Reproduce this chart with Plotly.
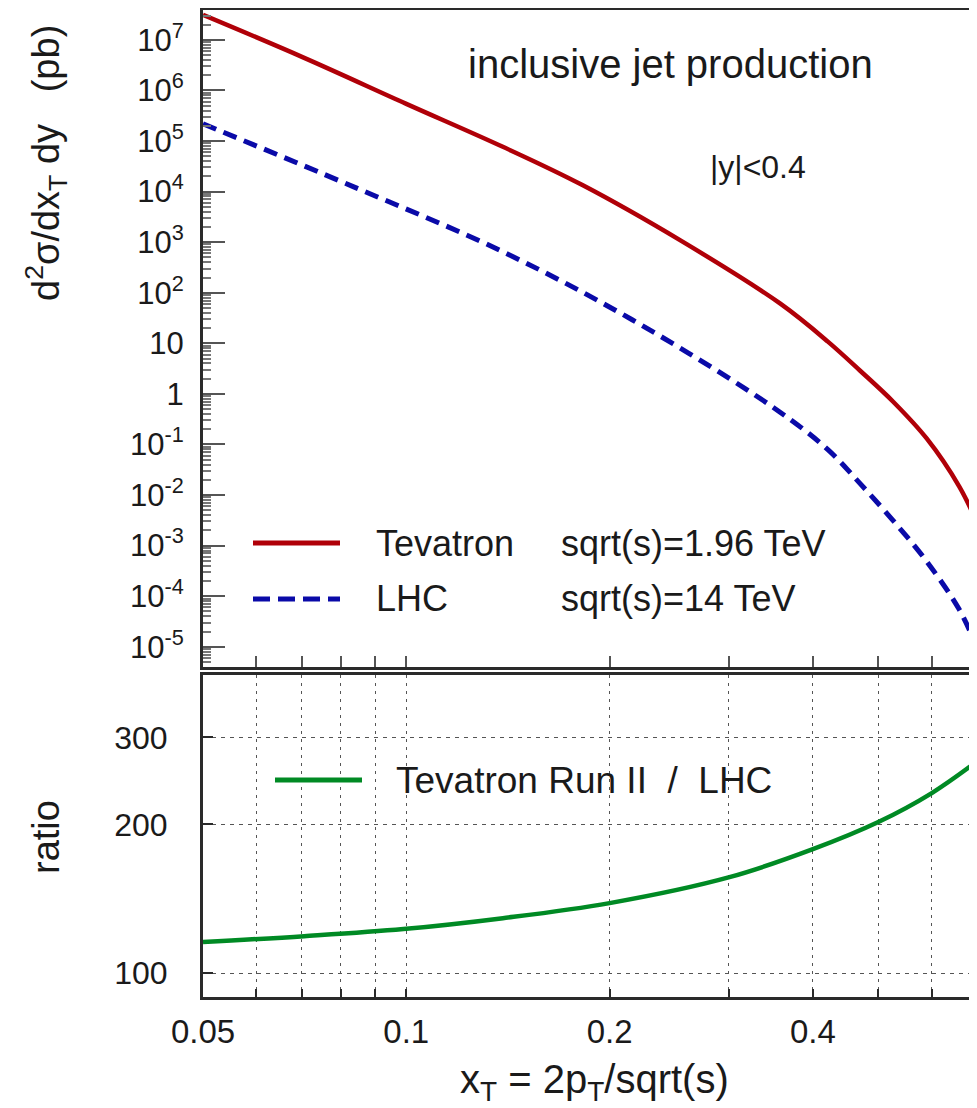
import math
import plotly.graph_objects as go

# ---------------- data ----------------
tev_x = [0.05, 0.0706, 0.1, 0.139, 0.182, 0.255, 0.358, 0.421, 0.470, 0.526, 0.590, 0.659, 0.698]
tev_y = [3.12e7, 4.41e6, 5.43e5, 7.67e4, 1.36e4, 1.07e3, 60.7, 10.8, 2.87, 0.70, 0.130, 0.0147, 0.00312]

lhc_x = [0.05, 0.0836, 0.139, 0.216, 0.350, 0.421, 0.470, 0.526, 0.590, 0.659, 0.698]
lhc_y = [2.19e5, 1.24e4, 646, 29.2, 0.533, 0.0789, 0.0168, 0.00312, 4.83e-4, 5.43e-5, 1.06e-5]

ratio_x = [0.05, 0.0706, 0.099, 0.139, 0.200, 0.301, 0.400, 0.500, 0.600, 0.698]
ratio_y = [115.6, 118.8, 122.8, 129.2, 138.6, 156.4, 178.2, 202.2, 231.4, 267.4]

x_major_ticks = [0.05, 0.1, 0.2, 0.4]
x_major_labels = ["0.05", "0.1", "0.2", "0.4"]
x_minor_ticks = [0.06, 0.07, 0.08, 0.09, 0.3, 0.5, 0.6]
x_all_ticks = [0.05, 0.06, 0.07, 0.08, 0.09, 0.1, 0.2, 0.3, 0.4, 0.5, 0.6]

y_top_exponents = [7, 6, 5, 4, 3, 2, 1, 0, -1, -2, -3, -4, -5]
ratio_ticks = [100, 200, 300]

# ---------------- layout geometry ----------------
# the page body adds an 8px margin, so the figure is placed at (8, 8) in the screenshot
OFF = 8
W, H = 977 - OFF, 1108 - OFF
PL, PR, PT, PB = 203, 977, 10, 997          # plot-area edges in screenshot pixels
L, R, T, B = PL - OFF, W - (PR - OFF), PT - OFF, H - (PB - OFF)
plot_h = H - T - B
top_dom = [(PB - 667) / plot_h, 1.0]
bot_dom = [0.0, (PB - 675) / plot_h]

FONT = "Liberation Sans, Arial, Helvetica, sans-serif"
AX = "#2a2a2a"
RED = "#b00008"
BLUE = "#0a0aa8"
GREEN = "#008a24"
GRID = "#555555"


def px(xp):
    return (xp - PL) / (PR - PL)


def py(yp):
    return (PB - yp) / plot_h


def ytick_text(e):
    if e == 0:
        return "1"
    if e == 1:
        return "10"
    return "10<sup>%d</sup>" % e


top_minor = [m * 10.0 ** k for k in range(-6, 8) for m in range(2, 10)]

fig = go.Figure()

fig.add_trace(go.Scatter(x=tev_x, y=tev_y, mode="lines", xaxis="x2", yaxis="y2",
                         line=dict(color=RED, width=4.5, shape="spline", smoothing=1.0),
                         showlegend=False, name="Tevatron"))
fig.add_trace(go.Scatter(x=lhc_x, y=lhc_y, mode="lines", xaxis="x2", yaxis="y2",
                         line=dict(color=BLUE, width=5, dash="14px,8px", shape="spline", smoothing=1.0),
                         showlegend=False, name="LHC"))
fig.add_trace(go.Scatter(x=ratio_x, y=ratio_y, mode="lines", xaxis="x", yaxis="y",
                         line=dict(color=GREEN, width=4.5, shape="spline", smoothing=1.0),
                         showlegend=False, name="ratio"))

xrange = [math.log10(0.05), math.log10(0.70)]

fig.update_layout(
    width=W, height=H,
    margin=dict(l=L, r=R, t=T, b=B, autoexpand=False),
    paper_bgcolor="white", plot_bgcolor="white",
    font=dict(family=FONT, color="#1a1a1a", size=30),
    xaxis=dict(type="log", range=xrange, domain=[0, 1], anchor="y", automargin=False,
               tickvals=x_major_ticks, ticktext=x_major_labels,
               tickfont=dict(size=33), ticklabelstandoff=3,
               ticks="inside", ticklen=8, tickwidth=2, tickcolor=AX,
               showgrid=True, gridcolor=GRID, gridwidth=1, griddash="3px,5px",
               minor=dict(tickvals=x_minor_ticks, ticks="inside", ticklen=8, tickwidth=2, tickcolor=AX,
                          showgrid=True, gridcolor=GRID, gridwidth=1, griddash="3px,5px"),
               showline=True, linecolor=AX, linewidth=3, mirror=True, zeroline=False),
    yaxis=dict(type="log", range=[math.log10(89.5), math.log10(401)], domain=bot_dom, anchor="x",
               automargin=False,
               tickvals=ratio_ticks, ticktext=[str(v) for v in ratio_ticks],
               tickfont=dict(size=32), ticklabelstandoff=26,
               ticks="inside", ticklen=10, tickwidth=2, tickcolor=AX,
               showgrid=True, gridcolor=GRID, gridwidth=1, griddash="4px,5px",
               showline=True, linecolor=AX, linewidth=3, zeroline=False),
    xaxis2=dict(type="log", range=xrange, domain=[0, 1], anchor="y2", automargin=False,
                tickvals=x_all_ticks, showticklabels=False,
                ticks="inside", ticklen=11, tickwidth=2, tickcolor="#555",
                showgrid=False, showline=True, linecolor=AX, linewidth=3, mirror=True, zeroline=False),
    yaxis2=dict(type="log", range=[-5.40, 7.59], domain=top_dom, anchor="x2", automargin=False,
                tickvals=[10.0 ** e for e in y_top_exponents],
                ticktext=[ytick_text(e) for e in y_top_exponents],
                tickfont=dict(size=31), ticklabelstandoff=10,
                ticks="inside", ticklen=22, tickwidth=2, tickcolor="#555",
                minor=dict(tickvals=top_minor, ticks="inside", ticklen=8, tickwidth=1.5, tickcolor="#777"),
                showgrid=False, showline=True, linecolor=AX, linewidth=3, zeroline=False),
)

# legend samples (drawn as in the original figure)
fig.add_shape(type="line", xref="paper", yref="paper", x0=px(253), x1=px(340), y0=py(543), y1=py(543),
              line=dict(color=RED, width=5))
fig.add_shape(type="line", xref="paper", yref="paper", x0=px(253), x1=px(340), y0=py(599), y1=py(599),
              line=dict(color=BLUE, width=5, dash="17px,8px"))
fig.add_shape(type="line", xref="paper", yref="paper", x0=px(275), x1=px(362), y0=py(780), y1=py(780),
              line=dict(color=GREEN, width=5))


def text(xp, yp, s, size, xanchor="left", angle=0):
    fig.add_annotation(xref="paper", yref="paper", x=px(xp), y=py(yp), text=s, showarrow=False,
                       xanchor=xanchor, yanchor="middle", textangle=angle,
                       font=dict(size=size, family=FONT, color="#1a1a1a"))


text(374, 543, "Tevatron", 36)
text(559, 543, "sqrt(s)=1.96 TeV", 36)
text(374, 599, "LHC", 36)
text(559, 599, "sqrt(s)=14 TeV", 36)
text(394, 780, "Tevatron Run II\u00a0\u00a0/\u00a0\u00a0LHC", 37)

text(670, 64, "inclusive jet production", 40, xanchor="center")
text(758, 167, "|y|<0.4", 32, xanchor="center")

text(46, 163, "d<sup>2</sup>σ/dx<sub>T</sub>\u00a0dy\u00a0\u00a0\u00a0(pb)", 38, xanchor="center", angle=-90)
text(46, 837, "ratio", 38, xanchor="center", angle=-90)
text(594, 1082, "x<sub>T</sub>\u00a0=\u00a02p<sub>T</sub>/sqrt(s)", 40, xanchor="center")

fig.write_html("out.html")
